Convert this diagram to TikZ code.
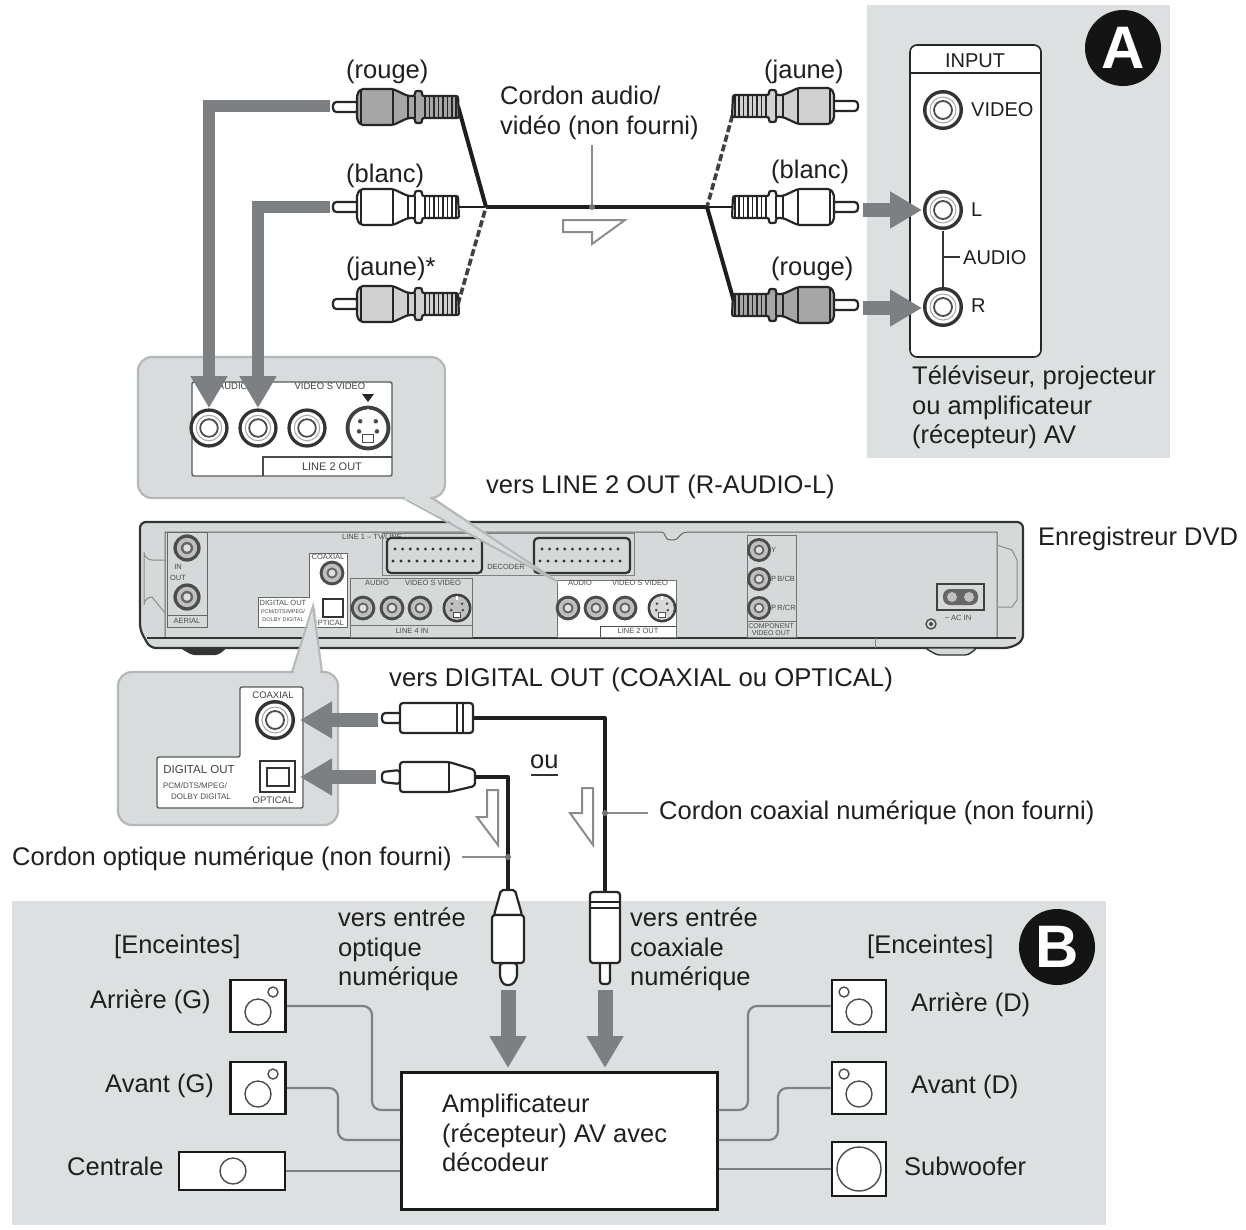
\documentclass[tikz,border=0pt]{standalone}
\usepackage{fontspec}
\setmainfont{Liberation Sans}
\usetikzlibrary{arrows.meta,calc}
\definecolor{panelgray}{HTML}{DDE0E1}
\definecolor{arrowgray}{HTML}{7C8083}
\definecolor{callfill}{HTML}{D9DCDD}
\definecolor{callline}{HTML}{B4B8B9}
\definecolor{devfill}{HTML}{D6D9D9}
\definecolor{wiregray}{HTML}{6E7274}
\definecolor{cabledark}{HTML}{1E1E1E}
\tikzset{
  x=1pt,y=-1pt,
  lbl/.style={anchor=base west,inner sep=0pt,font=\fontsize{25.5}{29.5}\selectfont,text=black!88},
  lblmid/.style={lbl,font=\fontsize{20}{24}\selectfont},
  tiny/.style={anchor=center,inner sep=0pt,font=\fontsize{9.5}{10.5}\selectfont,text=black!75},
  micro/.style={anchor=center,inner sep=0pt,font=\fontsize{7.5}{8.5}\selectfont,text=black!70},
  cable/.style={draw=cabledark,line width=4pt,line join=round},
  cablethin/.style={draw=cabledark,line width=2.4pt},
  cabledash/.style={draw=black!75,line width=3.6pt,dash pattern=on 7pt off 3pt},
  fatarrow/.style={draw=arrowgray,line width=#1,-{Triangle[length=32pt,width=35pt,fill=arrowgray]}},
  leader/.style={draw=black!45,line width=2pt},
  openarrow/.style={draw=black!45,line width=2pt,fill=white,line join=miter},
  spk/.style={draw=black!90,line width=2.6pt,fill=white,inner sep=0pt,minimum width=#1},
  spkwire/.style={draw=wiregray!90,line width=2.2pt,rounded corners=9pt},
  badge/.style={circle,fill=black!92,text=white,minimum size=76pt,inner sep=0pt,font=\fontsize{60}{60}\selectfont\bfseries},
}
% RCA plug: x, y, direction (1: tip left, -1: tip right), body colour
\newcommand{\rcaplug}[4]{%
\begin{scope}[shift={(#1,#2)},xscale=#3,line width=2.2pt,draw=black!85]
  \draw[fill=white,rounded corners=3.5pt] (26,-5) -- (0,-5) -- (0,5) -- (26,5) -- cycle;
  \draw[fill=#4,rounded corners=2pt] (24,-13) -- (28,-18) -- (60,-18) -- (75,-11) -- (82,-11) -- (82,-16) -- (89,-16) -- (89,-11) -- (125,-11) -- (126,11) -- (89,11) -- (89,16) -- (82,16) -- (82,11) -- (75,11) -- (60,18) -- (28,18) -- (24,13) -- cycle;
  \draw[line width=1.2pt] (28,-18) -- (28,18) (60,-18) -- (60,18) (75,-11) -- (75,11) (82,-11) -- (82,11);
  \foreach \r in {92,96.5,101,105.5,110,114.5,119,123}{\draw[line width=1.7pt] (\r,-11) -- (\r,11);}
\end{scope}}
% Round socket
\newcommand{\socket}[3]{%
\begin{scope}[shift={(#1,#2)},scale=#3]
  \fill[black!80] (0,0) circle (20);
  \fill[white] (0,0) circle (16.5);
  \draw[black!70,line width=1.8pt] (0,0) circle (9);
  \draw[black!35,line width=1pt] (0,0) circle (13);
\end{scope}}
% Socket on the recorder: gray rim
\newcommand{\devsocket}[3]{%
\begin{scope}[shift={(#1,#2)},scale=#3]
  \fill[black!70] (0,0) circle (20);
  \fill[black!25] (0,0) circle (15);
  \fill[black!60] (0,0) circle (9);
  \fill[black!12] (0,0) circle (5.5);
\end{scope}}
% S-video socket
\newcommand{\svideo}[4]{%
\begin{scope}[shift={(#1,#2)},scale=#3]
  \fill[black!75] (0,0) circle (20);
  \fill[#4] (0,0) circle (16.5);
  \fill[black!70] (-7,-6) circle (2) (7,-6) circle (2) (-8,3) circle (2) (8,3) circle (2);
  \fill[white,draw=black!70,line width=.8pt] (-5,6) rectangle (5,13);
  \draw[white,line width=1.5pt] (0,-17) -- (0,-11);
\end{scope}}
\begin{document}
\begin{tikzpicture}
\useasboundingbox (0,0) rectangle (1246,1229);
\fill[white] (0,0) rectangle (1246,1229);
% --- panels
\fill[panelgray] (867,5) rectangle (1170,458);
\fill[panelgray] (12,901) rectangle (1106,1225);
% --- TV side
\draw[black!85,line width=1.6pt,fill=white,rounded corners=7pt] (910,45) rectangle (1041,357);
\draw[black!85,line width=1.4pt] (910,73) -- (1041,73);
\node[lblmid,anchor=base] (tinput) at (975,67) {INPUT};
\socket{943}{110}{1}
\socket{943}{210}{1}
\socket{943}{307}{1}
\coordinate (jl) at (943,231);
\coordinate (jr) at (943,287);
\coordinate (ja) at (960,257);
\draw[black!80,line width=1.4pt] (jl) -- (jr);
\draw[black!80,line width=1.4pt] (943,257) -- (ja);
\node[lblmid] (tvideo) at (971,116) {VIDEO};
\node[lblmid] (tl) at (971,216) {L};
\node[lblmid] (taudio) at (963,264) {AUDIO};
\node[lblmid] (tr) at (971,312) {R};
\node[badge] (badgeA) at (1123,48) {A};
\node[lbl,align=left,anchor=north west] (ttv) at (912,366) {Téléviseur, projecteur\\ou amplificateur\\(récepteur) AV};
% --- DVD recorder
\draw[black!80,line width=2.2pt,fill=devfill,rounded corners=6pt] (140,522) -- (1023,522) -- (1023,641) -- (1010,648) -- (150,648) -- (140,630) -- cycle;
\fill[black!80,rounded corners=3pt] (180,648) -- (227,648) -- (218,655) -- (192,655) -- cycle;
\fill[devfill,draw=black!80,line width=1.4pt,rounded corners=3pt] (925,648) -- (977,648) -- (968,655) -- (937,655) -- cycle;
\draw[black!60,line width=1pt] (165,532) -- (660,532) .. controls (668,532) and (662,540) .. (672,540) .. controls (682,540) and (676,532) .. (690,532) -- (997,532) -- (997,638) -- (165,638) -- cycle;
\draw[black!80,line width=1.6pt] (147,638) -- (1016,638);
\draw[black!45,line width=1pt] (165,560) -- (152,560) arc[start angle=90,end angle=180,radius=8] -- (144,605) arc[start angle=180,end angle=270,radius=8] -- (165,613);
\draw[black!45,line width=1pt] (997,545) -- (1012,550) -- (1017,560) -- (1017,600) -- (1012,607) -- (997,607);
\draw[black!50,line width=1pt] (875,638) -- (875,648);
% AERIAL
\draw[black!60,line width=.8pt] (167,532) rectangle (207,627);
\draw[black!60,line width=.8pt] (167,615) -- (207,615);
\devsocket{187}{548}{.68}
\devsocket{187}{597}{.68}
\node[micro] (tin) at (178,567) {IN};
\node[micro] (tout) at (178,578) {OUT};
\node[micro] (taer) at (187,621) {AERIAL};
% digital out on device
\fill[white] (258,597) rectangle (309,627);
\fill[white] (309,553) rectangle (347,627);
\draw[black!60,line width=.8pt] (258,597) -- (309,597) -- (309,553) -- (347,553) -- (347,627) -- (258,627) -- cycle;
\devsocket{332}{573}{.62}
\draw[black!80,line width=1.8pt,fill=white] (323,599) rectangle (343,617);
\node[micro] (d1) at (328,557) {COAXIAL};
\node[micro] (d2) at (328,623) {OPTICAL};
\node[micro] (d3) at (283,603) {DIGITAL OUT};
\node[micro,font=\fontsize{5.5}{6}\selectfont] (d4) at (283,612) {PCM/DTS/MPEG/};
\node[micro,font=\fontsize{5.5}{6}\selectfont] (d5) at (283,620) {DOLBY DIGITAL};
\node[micro] (tline1) at (372,537) {LINE 1 – TV/LINE};
% scarts
\draw[black!50,line width=.8pt] (382,533) rectangle (634,575);
\foreach \sx/\sw in {387/95,534/96}{
  \draw[black!80,line width=2.2pt,fill=devfill,rounded corners=4pt] (\sx,538) rectangle ++(\sw,35);
  \foreach \i in {0,...,10}{
    \fill[black!80] ($(\sx,549)+(\i*7.6+8,0)$) circle (1.6);
    \fill[black!80] ($(\sx,561)+(\i*8+6,0)$) circle (1.6);
  }
}
\node[micro] (tdec) at (506,567) {DECODER};
% line 4 in
\draw[black!55,line width=.8pt] (350,578) rectangle (472,637);
\draw[black!55,line width=.8pt] (350,625) -- (472,625);
\devsocket{363}{608}{.62}
\devsocket{392}{608}{.62}
\devsocket{420}{608}{.62}
\svideo{457}{608}{.72}{black!25}
\node[micro] (l4a) at (377,583) {AUDIO};
\node[micro] (l4b) at (433,583) {VIDEO S VIDEO};
\node[micro] (l4c) at (412,631) {LINE 4 IN};
% line 2 out
\fill[white] (557,580) rectangle (676,637);
\draw[black!55,line width=.8pt] (557,580) rectangle (676,637);
\draw[black!70,line width=.8pt] (600,637) -- (600,626) -- (676,626);
\devsocket{568}{608}{.62}
\devsocket{596}{608}{.62}
\devsocket{625}{608}{.62}
\svideo{662}{608}{.72}{black!15}
\node[micro] (l2a) at (580,583) {AUDIO};
\node[micro] (l2b) at (640,583) {VIDEO S VIDEO};
\node[micro] (l2c) at (638,631) {LINE 2 OUT};
% component
\draw[black!55,line width=.8pt] (747,535) rectangle (796,637);
\draw[black!55,line width=.8pt] (747,621) -- (796,621);
\devsocket{759}{550}{.6}
\devsocket{759}{579}{.6}
\devsocket{759}{608}{.6}
\node[micro,anchor=west] (cy) at (771,550) {Y};
\node[micro,anchor=west] (cb) at (771,579) {P\,B/CB};
\node[micro,anchor=west] (cr) at (771,608) {P\,R/CR};
\node[micro,font=\fontsize{7}{8}\selectfont] (cv1) at (771,626) {COMPONENT};
\node[micro,font=\fontsize{7}{8}\selectfont] (cv2) at (771,633) {VIDEO OUT};
% AC
\draw[black!75,line width=1.8pt,fill=devfill] (937,584) rectangle (984,610);
\fill[black!60,rounded corners=7pt] (943,589) rectangle (978,605);
\fill[black!25] (952,597) circle (5) (969,597) circle (5);
\node[micro] (tac) at (958,618) {\textasciitilde{} AC IN};
\draw[black!70,line width=1.4pt,fill=devfill] (931,624) circle (5);
\fill[black!70] (931,624) circle (2);
% --- callout 1
\fill[callfill] (403,496) -- (558,582) -- (432,496) -- cycle;
\draw[callline,line width=2pt] (403,498) -- (558,582) -- (432,498);
\draw[callline,line width=2.2pt,fill=callfill,rounded corners=14pt] (138,357) rectangle (445,498);
\fill[callfill] (405,496) rectangle (430,500);
\draw[black!65,line width=1.4pt,fill=white,rounded corners=2pt] (192,382) rectangle (392,476);
\draw[black!70,line width=1.4pt] (263,476) -- (263,457) -- (392,457);
\socket{209}{428}{.98}
\socket{258}{428}{.98}
\socket{307}{428}{.98}
\svideo{368}{428}{1.12}{white}
\fill[black!85] (362,394) -- (374,394) -- (368,402) -- cycle;
\node[tiny] (c1a) at (233,386) {AUDIO};
\node[tiny] (c1b) at (330,386) {VIDEO S VIDEO};
\node[tiny,font=\fontsize{11}{12}\selectfont] (c1c) at (332,467) {LINE 2 OUT};
% --- callout 2
\fill[callfill] (292,672) -- (322,672) -- (315,606) -- cycle;
\draw[callline,line width=2pt] (292,672) -- (313,606) -- (322,672);
\draw[callline,line width=2.2pt,fill=callfill,rounded corners=14pt] (118,672) rectangle (338,825);
\fill[callfill] (294,670) rectangle (320,675);
\draw[black!65,line width=1.4pt,fill=white,rounded corners=2pt] (157,808) -- (157,757) -- (240,757) -- (240,687) -- (303,687) -- (303,808) -- cycle;
\socket{275}{720}{1}
\draw[black!80,line width=2pt,fill=white] (260,761) rectangle (295,792);
\draw[black!80,line width=2pt,fill=white] (267,768) rectangle (289,786);
\node[tiny] (c2a) at (273,695) {COAXIAL};
\node[tiny] (c2b) at (273,800) {OPTICAL};
\node[tiny,font=\fontsize{11.5}{12}\selectfont] (c2c) at (199,770) {DIGITAL OUT};
\node[micro,font=\fontsize{8}{9}\selectfont] (c2d) at (195,786) {PCM/DTS/MPEG/};
\node[micro,font=\fontsize{8}{9}\selectfont] (c2e) at (201,797) {DOLBY DIGITAL};
% --- top cable
\coordinate (jL) at (486,207);
\coordinate (jR) at (707,207);
\coordinate (pa) at (458,106);
\coordinate (pb) at (458,207);
\coordinate (pc) at (458,304);
\coordinate (qa) at (735,106);
\coordinate (qb) at (735,207);
\coordinate (qc) at (735,305);
\draw[cable] (jL) -- (jR);
\draw[cable] (pa) -- (jL);
\draw[cablethin] (pb) -- (jL);
\draw[cabledash] (pc) -- (jL);
\draw[cabledash] (qa) -- (jR);
\draw[cablethin] (qb) -- (jR);
\draw[cable] (qc) -- (jR);
\rcaplug{333}{107}{1}{black!35}
\rcaplug{333}{207}{1}{white}
\rcaplug{333}{304}{1}{black!18}
\rcaplug{858}{106}{-1}{black!18}
\rcaplug{858}{207}{-1}{white}
\rcaplug{858}{305}{-1}{black!35}
\node[lbl] (t1) at (346,78) {(rouge)};
\node[lbl] (t2) at (346,182) {(blanc)};
\node[lbl] (t3) at (346,275) {(jaune)*};
\node[lbl] (t4) at (764,78) {(jaune)};
\node[lbl] (t5) at (771,178) {(blanc)};
\node[lbl] (t6) at (771,275) {(rouge)};
\node[lbl,align=left,anchor=north west] (t7) at (500,86) {Cordon audio/\\vidéo (non fourni)};
\coordinate (topleader) at (592,145);
\coordinate (topjoint) at (592,207);
\draw[leader] (topleader) -- (topjoint);
\fill[black!55] (topjoint) circle (3);
\draw[openarrow] (563,220) -- (625,220) -- (592,244) -- (592,232) -- (563,232) -- cycle;
% --- fat arrows, top
\coordinate (fa1) at (330,106);
\coordinate (fa2) at (209,408);
\coordinate (fb1) at (330,207);
\coordinate (fb2) at (258,408);
\draw[fatarrow=12pt] (fa1) -| (fa2);
\draw[fatarrow=12pt] (fb1) -| (fb2);
\coordinate (fc1) at (863,210);
\coordinate (fc2) at (922,210);
\coordinate (fd1) at (863,308);
\coordinate (fd2) at (922,308);
\draw[fatarrow=14pt] (fc1) -- (fc2);
\draw[fatarrow=14pt] (fd1) -- (fd2);
% --- labels mid
\node[lbl] (t8) at (486,493) {vers LINE 2 OUT (R-AUDIO-L)};
\node[lbl] (t9) at (1038,545) {Enregistreur DVD};
\node[lbl,font=\fontsize{25.7}{29}\selectfont] (t10) at (389,686) {vers DIGITAL OUT (COAXIAL ou OPTICAL)};
\node[lbl] (t11) at (530,768) {ou};
\draw[black!80,line width=1.4pt] (531,775) -- (558,775);
% --- digital cables
\coordinate (co1) at (473,718);
\coordinate (co2) at (605,718);
\coordinate (co3) at (605,892);
\coordinate (op1) at (475,777);
\coordinate (op2) at (508,777);
\coordinate (op3) at (508,890);
\draw[cable] (co1) -- (co2) -- (co3);
\draw[cable] (op1) -- (op2) -- (op3);
\begin{scope}[line width=2.2pt,draw=black!85]
  % horizontal coax plug
  \draw[fill=white,rounded corners=3.5pt] (402,713) -- (382,713) -- (382,723) -- (402,723) -- cycle;
  \draw[fill=white,rounded corners=3pt] (400,703) rectangle (473,733);
  \draw[line width=1.4pt] (457,703) -- (457,733) (463,703) -- (463,733);
  % horizontal optical plug
  \draw[fill=white,rounded corners=3pt] (400,770) -- (382,772) -- (382,782) -- (400,784) -- cycle;
  \draw[fill=white,rounded corners=3pt] (400,762) -- (449,762) -- (475,770) -- (475,786) -- (449,792) -- (400,792) -- cycle;
  \draw[line width=1.4pt] (449,762) -- (449,792);
  % vertical optical plug
  \draw[fill=white,rounded corners=2pt] (501,890) -- (515,890) -- (522,915) -- (494,915) -- cycle;
  \draw[fill=white,rounded corners=3pt] (500,963) -- (517,963) -- (517,978) -- (512,985) -- (504,985) -- (500,978) -- cycle;
  \draw[fill=white,rounded corners=3pt] (492,915) rectangle (524,963);
  % vertical coax plug
  \draw[fill=white,rounded corners=3pt] (600,960) rectangle (610,984);
  \draw[fill=white,rounded corners=3pt] (590,892) rectangle (620,963);
  \draw[line width=1.4pt] (590,902) -- (620,902) (590,908) -- (620,908);
\end{scope}
\coordinate (f1a) at (378,720);
\coordinate (f1b) at (300,720);
\coordinate (f2a) at (376,777);
\coordinate (f2b) at (300,777);
\coordinate (f3a) at (508,990);
\coordinate (f3b) at (508,1068);
\coordinate (f4a) at (605,990);
\coordinate (f4b) at (605,1068);
\draw[fatarrow=14pt] (f1a) -- (f1b);
\draw[fatarrow=14pt] (f2a) -- (f2b);
\draw[fatarrow=15pt] (f3a) -- (f3b);
\draw[fatarrow=15pt] (f4a) -- (f4b);
\draw[openarrow] (487,790) -- (498,790) -- (498,845) -- (477,817) -- (487,817) -- cycle;
\draw[openarrow] (582,788) -- (593,788) -- (593,845) -- (570,813) -- (582,813) -- cycle;
\node[lbl] (t12) at (659,819) {Cordon coaxial numérique (non fourni)};
\node[lbl] (t13) at (12,865) {Cordon optique numérique (non fourni)};
\coordinate (l1a) at (605,813);
\coordinate (l1b) at (648,813);
\coordinate (l2a) at (462,857);
\coordinate (l2b) at (508,857);
\draw[leader] (l1a) -- (l1b);
\draw[leader] (l2a) -- (l2b);
\fill[black!55] (l1a) circle (3) (l2b) circle (3);
% --- bottom panel
\node[badge] (badgeB) at (1057,947) {B};
\node[lbl,align=left,anchor=north west] (t14) at (338,908) {vers entrée\\optique\\numérique};
\node[lbl,align=left,anchor=north west] (t15) at (630,908) {vers entrée\\coaxiale\\numérique};
\node[lbl] (t16) at (114,953) {[Enceintes]};
\node[lbl] (t17) at (867,953) {[Enceintes]};
\node[lbl] (t18) at (90,1008) {Arrière (G)};
\node[lbl] (t19) at (105,1092) {Avant (G)};
\node[lbl] (t20) at (67,1175) {Centrale};
\node[lbl] (t21) at (911,1011) {Arrière (D)};
\node[lbl] (t22) at (911,1093) {Avant (D)};
\node[lbl] (t23) at (904,1175) {Subwoofer};
% amp + speakers
\node[draw=black!90,line width=2.6pt,fill=white,minimum width=316pt,minimum height=137pt,inner sep=0pt,anchor=north west] (amp) at (400,1071) {};
\node[lbl,align=left,anchor=north west] (t24) at (442,1094) {Amplificateur\\(récepteur) AV avec\\décodeur};
\node[spk=55pt,minimum height=52pt] (sp1) at (258,1006) {};
\node[spk=55pt,minimum height=52pt] (sp2) at (258,1088) {};
\node[spk=106pt,minimum height=38pt] (sp3) at (232,1171) {};
\node[spk=54pt,minimum height=52pt] (sp4) at (859,1006) {};
\node[spk=54pt,minimum height=52pt] (sp5) at (859,1088) {};
\node[spk=54pt,minimum height=54pt] (sp6) at (859,1169) {};
\foreach \cx/\cy/\ty/\tx in {258/1012/992/273,258/1094/1074/273,859/1012/992/844,859/1094/1074/844}{
  \draw[black!70,line width=1.4pt] (\cx,\cy) circle (13);
  \draw[black!70,line width=1.4pt] (\tx,\ty) circle (5);
}
\draw[black!70,line width=1.4pt] (233,1171) circle (13);
\draw[black!70,line width=1.4pt] (859,1169) circle (22);
\draw[spkwire] (sp1.east) -- (372,1006) -- (372,1110) -- (amp.west |- 0,1110);
\draw[spkwire] (sp2.east) -- (338,1088) -- (338,1140) -- (amp.west |- 0,1140);
\draw[spkwire] (sp3.east) -- (amp.west |- sp3.east);
\draw[spkwire] (sp4.west) -- (748,1006) -- (748,1110) -- (amp.east |- 0,1110);
\draw[spkwire] (sp5.west) -- (778,1088) -- (778,1140) -- (amp.east |- 0,1140);
\draw[spkwire] (sp6.west) -- (amp.east |- sp6.west);
\end{tikzpicture}
\end{document}
